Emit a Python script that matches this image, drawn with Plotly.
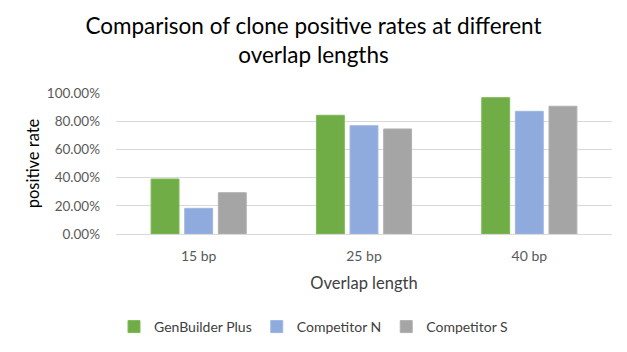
import plotly.graph_objects as go

categories = ["15 bp", "25 bp", "40 bp"]
genbuilder = [0.39, 0.842, 0.967]
competitor_n = [0.182, 0.768, 0.870]
competitor_s = [0.293, 0.745, 0.906]

series = [
    ("GenBuilder Plus", genbuilder, "#70AD47", "#7DBB52"),
    ("Competitor N", competitor_n, "#8FAADC", "#9DB6E2"),
    ("Competitor S", competitor_s, "#A5A5A5", "#B0B0B0"),
]

font_family = "Lato, Carlito, Calibri, sans-serif"

fig = go.Figure()
for name, vals, color, edge in series:
    fig.add_trace(go.Bar(
        x=categories, y=vals, name=name,
        marker=dict(color=color, line=dict(color=edge, width=1)),
    ))

fig.update_layout(
    width=627, height=352,
    margin=dict(l=116, r=15, t=93, b=118),
    paper_bgcolor="white", plot_bgcolor="white",
    barmode="group", bargap=0.39, bargroupgap=0.17,
    font=dict(family=font_family, color="#595959", size=13),
    title=dict(
        text="Comparison of clone positive rates at different<br>overlap lengths",
        x=0.5, xanchor="center", xref="container",
        y=1 - 34 / 352, yanchor="middle", yref="container",
        font=dict(family=font_family, size=22.5, color="#000000"),
    ),
    legend=dict(
        orientation="h", x=0.5, xanchor="center", xref="container",
        y=1 - 327 / 352, yanchor="middle", yref="container",
        font=dict(size=14, color="#404040"),
        itemwidth=30, traceorder="normal",
    ),
    showlegend=True,
)

fig.update_yaxes(
    range=[0, 1.0], dtick=0.2, tickformat=".2%",
    showgrid=True, gridcolor="#D9D9D9", gridwidth=1,
    zeroline=False, showline=False, ticks="",
    ticklabelstandoff=15,
    title=dict(text="positive rate", font=dict(size=16.5, color="#000000"), standoff=3),
    tickfont=dict(size=13.5, color="#595959"),
)
fig.update_xaxes(
    showline=True, linecolor="#D9D9D9", linewidth=1,
    ticks="", ticklabelstandoff=9,
    tickfont=dict(size=14, color="#595959"),
    title=dict(text="Overlap length", font=dict(size=16.5, color="#404040"), standoff=14),
)

fig.write_html("out.html")
